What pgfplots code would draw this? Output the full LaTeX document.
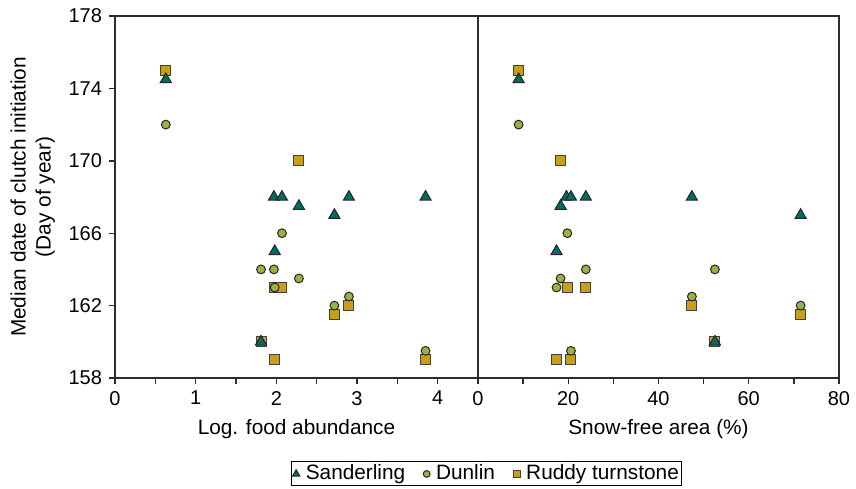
\documentclass[border=0pt]{standalone}
\usepackage{fontspec}
\setmainfont{Liberation Sans}
\usepackage{pgfplots}
\pgfplotsset{compat=1.18}

\definecolor{sandc}{RGB}{0,108,100}
\definecolor{dunlc}{RGB}{155,178,66}
\definecolor{ruddc}{RGB}{200,160,22}
\definecolor{axgray}{RGB}{45,45,45}

\pgfplotsset{
  panel/.style={
    scale only axis, height=181pt, ymin=158, ymax=178,
    axis line style={axgray, line width=0.9pt},
    tick align=outside, major tick length=3pt, minor tick length=3pt,
    every tick/.style={axgray, line width=0.7pt},
    tick label style={font=\fontsize{10}{12}\selectfont},
    label style={font=\fontsize{10.4}{12.5}\selectfont},
    /pgf/number format/assume math mode=true,
    xtick pos=bottom, minor x tick num=1,
  },
  sand/.style={only marks, mark=triangle*, mark size=3.2pt,
    mark options={fill=sandc, draw=black!85, line width=0.5pt}},
  dunl/.style={only marks, mark=*, mark size=2.2pt,
    mark options={fill=dunlc, draw=black!85, line width=0.5pt}},
  rudd/.style={only marks, mark=square*, mark size=2.5pt,
    mark options={fill=ruddc, draw=black!75, line width=0.5pt}},
}

\begin{document}
\begin{tikzpicture}
\useasboundingbox (-57.5pt,-55pt) rectangle (370.5pt,189pt);

% left panel: log food abundance
\begin{axis}[panel, width=181.5pt,
    at={(0pt,0pt)}, anchor=south west,
    xmin=0, xmax=4.5, xtick={0,1,2,3,4},
    ytick={158,162,...,178}, ytick pos=left,
    xlabel={Log. food abundance},
    ylabel={Median date of clutch initiation\\(Day of year)},
    ylabel style={align=center},
    legend columns=3,
    legend style={at={(0.485,-0.265)}, anchor=west, draw=black,
      line width=0.5pt, inner sep=0.5pt,
      font=\fontsize{10.4}{12}\selectfont,
      nodes={inner sep=1pt},
      /tikz/every odd column/.append style={column sep=2pt},
      /tikz/every even column/.append style={column sep=8pt}},
]
\addplot[rudd, forget plot] coordinates {
  (0.63,175) (2.28,170) (1.98,163) (2.07,163) (2.72,161.5)
  (2.90,162) (1.81,160) (1.98,159) (3.85,159)
};
\addplot[dunl, forget plot] coordinates {
  (0.63,172) (2.07,166) (1.81,164) (1.97,164) (2.28,163.5)
  (1.98,163) (2.72,162) (2.90,162.5) (3.85,159.5)
};
\addplot[sand, forget plot] coordinates {
  (0.63,174.5) (1.97,168) (2.07,168) (2.28,167.5) (2.72,167)
  (2.90,168) (3.85,168) (1.98,165) (1.81,160)
};
\addlegendimage{sand, mark size=2.1pt}
\addlegendentry{Sanderling}
\addlegendimage{dunl, mark size=1.7pt}
\addlegendentry{Dunlin}
\addlegendimage{rudd, mark size=1.8pt}
\addlegendentry{Ruddy turnstone}
\end{axis}

% right panel: snow-free area
\begin{axis}[panel, width=180.5pt,
    at={(181.5pt,0pt)}, anchor=south west,
    xmin=0, xmax=80, xtick={0,20,...,80},
    ytick=\empty,
    xlabel={Snow-free area (\%)},
]
\addplot[rudd] coordinates {
  (9,175) (18.3,170) (19.8,163) (23.9,163) (47.4,162)
  (71.5,161.5) (52.5,160) (17.4,159) (20.6,159)
};
\addplot[dunl] coordinates {
  (9,172) (19.8,166) (23.9,164) (52.5,164) (18.3,163.5)
  (17.4,163) (47.4,162.5) (71.5,162) (20.6,159.5)
};
\addplot[sand] coordinates {
  (9,174.5) (19.6,168) (20.6,168) (23.9,168) (47.4,168)
  (18.3,167.5) (71.5,167) (17.4,165) (52.5,160)
};
\end{axis}
\end{tikzpicture}
\end{document}
